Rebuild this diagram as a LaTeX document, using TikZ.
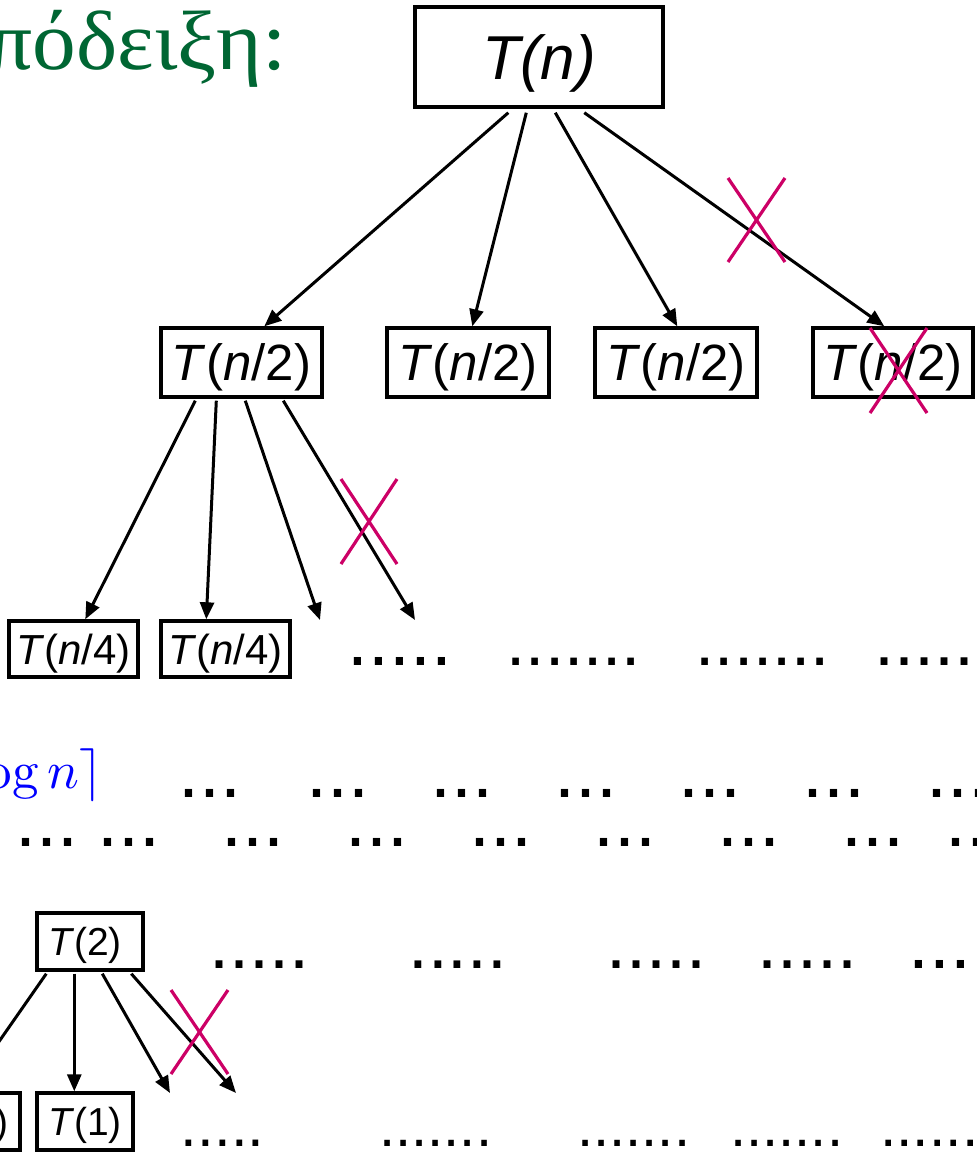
\documentclass[tikz,border=0pt]{standalone}
\usepackage{graphicx}
\usepackage{fontspec}
\newfontfamily\arial{Liberation Sans}
\newfontfamily\tnr{Liberation Serif}
\usetikzlibrary{arrows.meta}
\definecolor{xred}{RGB}{204,0,102}
\definecolor{titlegreen}{RGB}{0,102,51}
\newcommand{\fsz}[1]{\fontsize{#1}{#1}\selectfont}
\tikzset{
 boxst/.style={draw, line width=3.4pt, inner sep=0pt, text depth=0pt},
 lvlzero/.style={boxst, font=\arial\fsz{62}, text height=44pt},
 lvlone/.style={boxst, font=\arial\fsz{51}, text height=36.5pt, minimum height=69pt},
 lvltwo/.style={boxst, font=\arial\fsz{42}, text height=30pt, minimum height=56pt, minimum width=129pt},
 lvlthree/.style={boxst, font=\arial\fsz{39}, text height=28pt, minimum height=57pt},
 arr/.style={line width=3pt, -{Triangle[length=17pt,width=14pt]}},
 xmark/.style={draw=xred, line width=3.2pt},
 dotst/.style={inner sep=0pt, anchor=base west},
}
% name, x of first dot centre, baseline y, size, dots
\newcommand{\dotgrp}[5]{\node[dotst, font=\arial\fsz{#4}] (#1) at ({#2-0.137*#4},#3) {#5};}
\begin{document}
\begin{tikzpicture}[x=1pt,y=-1pt]
\useasboundingbox (0,0) rectangle (977,1152);
\clip (0,0) rectangle (977,1152);

% title
\node[anchor=base east, inner sep=0pt, text=titlegreen, font=\tnr\fsz{84}] (title) at (287,69) {\scalebox{1.04}[1]{Απόδειξη:}};

% boxes
\node[lvlzero, minimum width=248pt, minimum height=100pt] (tn) at (539,57) {\textit{T(n)}};
\node[lvlone, minimum width=161pt] (a1) at (241.5,362.5) {\textit{T}(\textit{n}/2)};
\node[lvlone, minimum width=162pt] (a2) at (468,362.5) {\textit{T}(\textit{n}/2)};
\node[lvlone, minimum width=162pt] (a3) at (676,362.5) {\textit{T}(\textit{n}/2)};
\node[lvlone, minimum width=160pt] (a4) at (893,362.5) {\textit{T}(\textit{n}/2)};
\node[lvltwo] (b1) at (73.5,649) {\textit{T}(\textit{n}/4)};
\node[lvltwo] (b2) at (225.5,649) {\textit{T}(\textit{n}/4)};
\node[lvlthree, text width=84pt, inner xsep=11pt, align=left] (c1) at (90,941.5) {\textit{T}(2)};
\node[lvlthree, minimum width=96pt] (d0) at (-28,1121.5) {\textit{T}(1)};
\node[lvlthree, minimum width=96pt] (d1) at (85,1121.5) {\textit{T}(1)};

% free arrow ends
\coordinate (e1) at (320,620);
\coordinate (e2) at (415,620);
\coordinate (f1) at (170,1093);
\coordinate (f2) at (236,1093);

% arrows from T(n)
\draw[arr] ([xshift=95pt,yshift=-4pt]tn.south west) -- ([xshift=105pt]a1.north west);
\draw[arr] ([xshift=113pt,yshift=-4pt]tn.south west) -- ([xshift=87pt]a2.north west);
\draw[arr] ([xshift=142pt,yshift=-4pt]tn.south west) -- ([xshift=84pt]a3.north west);
\draw[arr] ([xshift=171pt,yshift=-4pt]tn.south west) -- ([xshift=73pt]a4.north west);

% arrows from T(n/2)
\draw[arr] ([xshift=36pt,yshift=-2pt]a1.south west) -- ([xshift=78pt]b1.north west);
\draw[arr] ([xshift=57pt,yshift=-2pt]a1.south west) -- ([xshift=47pt]b2.north west);
\draw[arr] ([xshift=86pt,yshift=-2pt]a1.south west) -- (e1);
\draw[arr] ([xshift=124pt,yshift=-2pt]a1.south west) -- (e2);

% arrows from T(2)
\draw[arr] ([xshift=11pt,yshift=-2pt]c1.south west) -- ([xshift=42pt]d0.north west);
\draw[arr] ([xshift=39pt,yshift=-2pt]c1.south west) -- ([xshift=39pt]d1.north west);
\draw[arr] ([xshift=67pt,yshift=-2pt]c1.south west) -- (f1);
\draw[arr] ([xshift=96pt,yshift=-2pt]c1.south west) -- (f2);

% red crosses
\draw[xmark] (728,178) -- (785,262) (785,178) -- (728,262);
\draw[xmark] (870,328) -- (927,413) (927,328) -- (870,413);
\draw[xmark] (341,479) -- (397,564) (397,479) -- (341,564);
\draw[xmark] (171,990) -- (228,1074) (228,990) -- (171,1074);

% log n
\node[anchor=base east, inner sep=0pt, text=blue] (logn) at (103,788) {\scalebox{5.3}{$\lceil\log n\rceil$}};

% dot rows
\dotgrp{ra1}{358}{665}{75}{.....}
\dotgrp{ra2}{516}{665}{69}{.......}
\dotgrp{ra3}{705}{665}{69}{.......}
\dotgrp{ra4}{884}{665}{72}{.....}

\dotgrp{rb1}{189}{797}{75.5}{...}
\dotgrp{rb2}{317}{797}{75.5}{...}
\dotgrp{rb3}{441}{797}{75.5}{...}
\dotgrp{rb4}{565}{797}{75.5}{...}
\dotgrp{rb5}{689}{797}{75.5}{...}
\dotgrp{rb6}{813}{797}{75.5}{...}
\dotgrp{rb7}{937}{797}{75.5}{...}

\dotgrp{rc1}{26}{846}{75.5}{...}
\dotgrp{rc2}{108}{846}{75.5}{...}
\dotgrp{rc3}{232}{846}{75.5}{...}
\dotgrp{rc4}{356}{846}{75.5}{...}
\dotgrp{rc5}{480}{846}{75.5}{...}
\dotgrp{rc6}{604}{846}{75.5}{...}
\dotgrp{rc7}{728}{846}{75.5}{...}
\dotgrp{rc8}{852}{846}{75.5}{...}
\dotgrp{rc9}{956}{846}{75.5}{...}

\dotgrp{rd1}{219}{968}{72}{.....}
\dotgrp{rd2}{418}{968}{71}{.....}
\dotgrp{rd3}{616}{968}{72}{.....}
\dotgrp{rd4}{767}{968}{72}{.....}
\dotgrp{rd5}{919}{968}{75}{....}

\dotgrp{re1}{189}{1146}{60}{.....}
\dotgrp{re2}{387}{1146}{58}{.......}
\dotgrp{re3}{585}{1146}{58}{.......}
\dotgrp{re4}{738}{1146}{58}{.......}
\dotgrp{re5}{888}{1146}{59}{......}
\end{tikzpicture}
\end{document}
